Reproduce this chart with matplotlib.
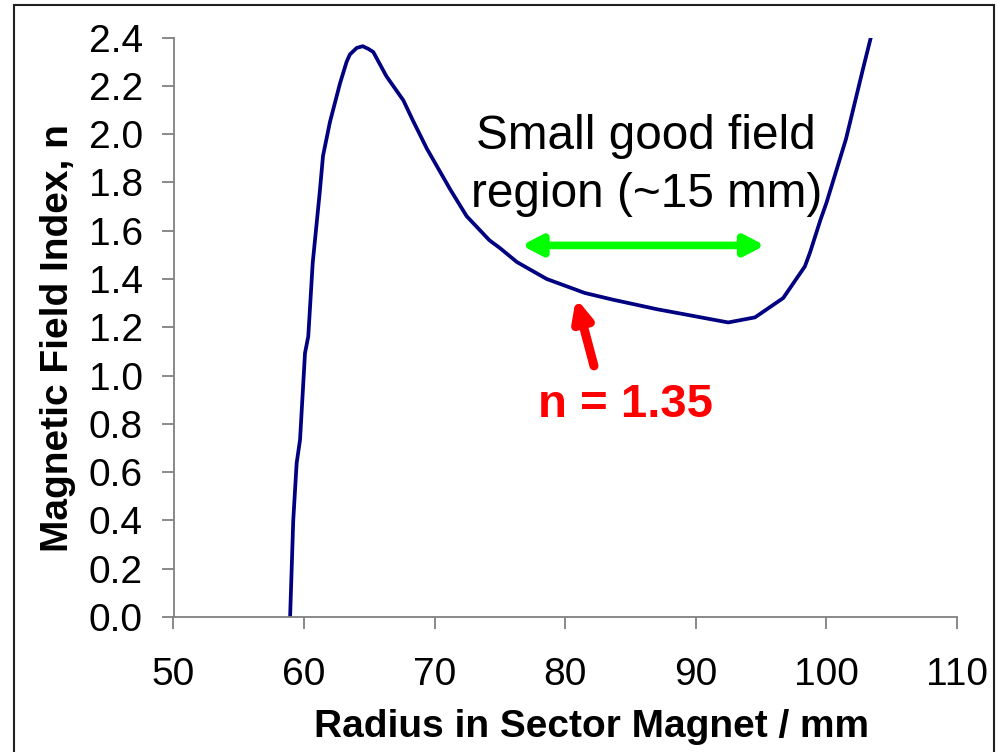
import numpy as np
import matplotlib
matplotlib.use("Agg")
import matplotlib.pyplot as plt
from matplotlib.patches import Rectangle

# === Data ===
radius = [58.93, 59.17, 59.43, 59.69, 60.07, 60.32, 60.66, 61.2, 61.45, 61.98,
          62.75, 63.26, 63.51, 64.03, 64.49, 64.92, 65.3, 66.3, 67.6, 68.3,
          69.4, 71.2, 72.45, 74.2, 75.0, 76.3, 78.58, 81.5, 83.67, 85.47,
          87.0, 89.3, 91.08, 92.48, 94.53, 96.69, 98.35, 98.74, 99.55, 100.0,
          101.5, 102.8, 103.4]
field_index = [0.0, 0.40, 0.637, 0.734, 1.093, 1.162, 1.466, 1.76, 1.91, 2.05,
               2.21, 2.30, 2.33, 2.357, 2.364, 2.353, 2.34, 2.24, 2.14, 2.06,
               1.94, 1.77, 1.66, 1.56, 1.528, 1.47, 1.40, 1.342, 1.314, 1.293,
               1.275, 1.252, 1.234, 1.22, 1.241, 1.321, 1.452, 1.509, 1.646,
               1.715, 1.98, 2.27, 2.40]

x_ticks = [50, 60, 70, 80, 90, 100, 110]
y_ticks = [0.0, 0.2, 0.4, 0.6, 0.8, 1.0, 1.2, 1.4, 1.6, 1.8, 2.0, 2.2, 2.4]

good_region = (76.66, 95.29)   # green double arrow ends
good_region_y = 1.539
n_arrow_tip = (80.82, 1.321)
n_arrow_tail = (82.2, 1.04)

plt.rcParams['font.family'] = ['Liberation Sans', 'DejaVu Sans']

fig = plt.figure(figsize=(10, 7.52), dpi=100)
ax = fig.add_axes([0.1735, 0.1795, 0.7835, 0.7706])

# outer frame of the slide
fig.patches.append(Rectangle((0.0135, -0.05), 0.98, 1.044, transform=fig.transFigure,
                             fill=False, edgecolor='#202020', linewidth=1.5))

ax.plot(radius, field_index, color='#000080', linewidth=2.7)

ax.set_xlim(50, 110)
ax.set_ylim(0, 2.4)
ax.set_xticks(x_ticks)
ax.set_yticks(y_ticks)
ax.set_yticklabels([f"{v:.1f}" for v in y_ticks])

for s in ['top', 'right']:
    ax.spines[s].set_visible(False)
for s in ['left', 'bottom']:
    ax.spines[s].set_color('#808080')
    ax.spines[s].set_linewidth(1.3)

ax.tick_params(axis='both', direction='out', length=8.5, width=1.3, color='#808080',
               labelsize=28)
ax.tick_params(axis='y', pad=13.5)
ax.tick_params(axis='x', pad=20)

fig.text(0.592, 0.033, 'Radius in Sector Magnet / mm', ha='center', va='center',
         fontsize=28, fontweight='bold')
fig.text(0.058, 0.551, 'Magnetic Field Index, n', ha='center', va='center',
         rotation=90, fontsize=28, fontweight='bold')

# good field region
ax.annotate('', xy=(good_region[0], good_region_y), xytext=(good_region[1], good_region_y),
            arrowprops=dict(arrowstyle='<|-|>,head_length=1.15,head_width=0.6',
                            color='#00FF00', linewidth=5.5, shrinkA=0, shrinkB=0))
ax.text(86.2, 1.87, 'Small good field\nregion (~15 mm)', ha='center', va='center',
        fontsize=34.4, linespacing=1.37)

# n = 1.35 marker
ax.annotate('', xy=n_arrow_tip, xytext=n_arrow_tail,
            arrowprops=dict(arrowstyle='-|>,head_length=1.2,head_width=0.55',
                            color='#FF0000', linewidth=6.5, shrinkA=0, shrinkB=0))
ax.text(84.6, 0.88, 'n = 1.35', ha='center', va='center', color='#FF0000',
        fontsize=34, fontweight='bold')

plt.savefig('out.png', dpi=100)
